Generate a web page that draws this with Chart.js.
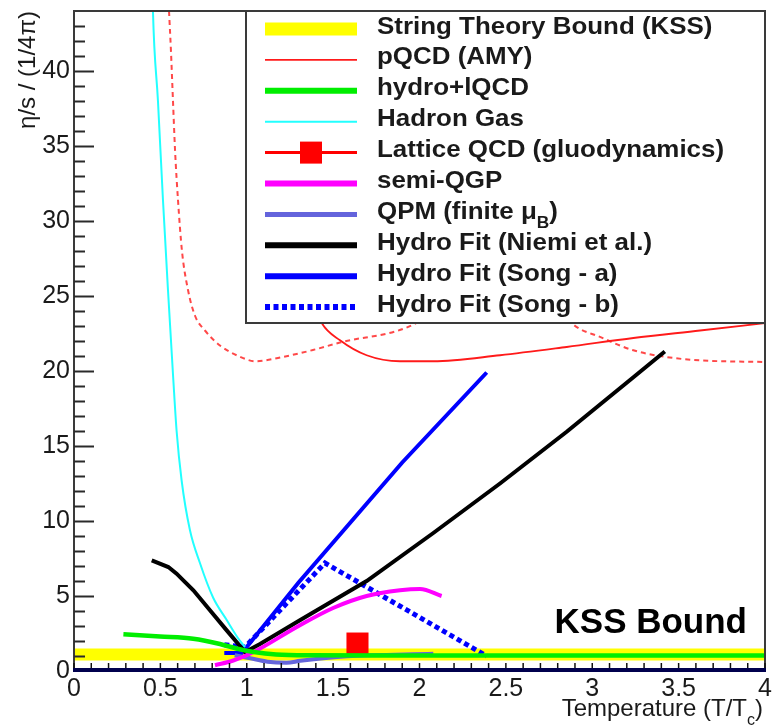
<!DOCTYPE html>
<html>
<head>
<meta charset="utf-8">
<script src="https://cdn.jsdelivr.net/npm/chart.js@4"></script>
<style>
  body { margin: 0; background: #fff; }
  canvas { display: block; }
</style>
</head>
<body>
<canvas id="chart" width="772" height="727"></canvas>
<script>
// values: x = T/Tc, y = eta/s in units of 1/(4 pi)
const xTicks = [0, 0.5, 1, 1.5, 2, 2.5, 3, 3.5, 4];
const yTicks = [0, 5, 10, 15, 20, 25, 30, 35, 40];

const kssX = [0, 4];
const kssY = [1.1, 1.1];

const pqcdX = [1.117, 1.2, 1.3, 1.434, 1.54, 1.694, 1.887, 2.08, 2.466, 2.852, 3.238, 3.624, 4.0];
const pqcdY = [44, 33, 27, 23.2, 22.05, 21.05, 20.65, 20.65, 21.05, 21.6, 22.2, 22.7, 23.2];

const pqcdLowX = [0.55, 0.561, 0.573, 0.585, 0.602, 0.625, 0.66, 0.7, 0.758, 0.845, 0.961, 1.05, 1.193, 1.383, 1.54, 1.964, 2.3];
const pqcdLowY = [44, 41.4, 38.0, 34.7, 31.4, 28.0, 25.4, 23.7, 22.7, 21.7, 20.95, 20.65, 20.9, 21.4, 21.9, 23.1, 26];

const pqcdHighX = [2.263, 2.4, 2.6, 2.89, 3.045, 3.238, 3.43, 3.624, 4.0];
const pqcdHighY = [44, 34, 27, 23.1, 22.27, 21.38, 20.93, 20.71, 20.6];

const hydroLqcdX = [0.286, 0.498, 0.69, 0.845, 0.94, 1.04, 1.17, 1.366, 2.0, 3.0, 4.0];
const hydroLqcdY = [2.45, 2.3, 2.15, 1.8, 1.5, 1.27, 1.1, 1.05, 1.04, 1.04, 1.04];

const hadronX = [0.452, 0.457, 0.486, 0.515, 0.544, 0.575, 0.594, 0.623, 0.671, 0.729, 0.805, 0.884, 0.949, 0.99];
const hadronY = [47, 44, 38, 31.4, 25.4, 19.4, 16.0, 12.7, 9.4, 7.2, 4.9, 3.4, 2.2, 1.6];

const latticeX = [1.641];
const latticeY = [1.83];

const semiQgpX = [0.816, 0.922, 1.04, 1.3, 1.5, 1.694, 1.887, 2.003, 2.128];
const semiQgpY = [0.38, 0.7, 1.27, 3.0, 4.2, 5.0, 5.38, 5.47, 5.0];

const qpmX = [0.93, 1.02, 1.12, 1.23, 1.31, 1.58, 2.08];
const qpmY = [1.05, 0.85, 0.62, 0.55, 0.68, 0.98, 1.15];

const niemiX = [0.45, 0.546, 0.594, 0.643, 0.691, 0.787, 0.884, 0.99, 1.077, 1.31, 1.694, 2.08, 2.466, 2.852, 3.24, 3.42];
const niemiY = [7.38, 6.93, 6.49, 5.93, 5.38, 4.05, 2.71, 1.27, 1.8, 3.4, 6.0, 9.2, 12.5, 15.95, 19.6, 21.3];

const songAX = [0.87, 0.97, 1.0, 1.3, 1.9, 2.389];
const songAY = [1.2, 1.2, 1.6, 5.9, 13.9, 19.9];

const songBX = [0.87, 0.99, 1.453, 2.389];
const songBY = [1.75, 1.6, 7.2, 1.0];

const FONT = "'Liberation Sans', Arial, Helvetica, sans-serif";
const TEXT = '#1a1a1a';

function pts(xs, ys) {
    return xs.map((x, i) => ({ x: x, y: ys[i] }));
}

// draws "abc_Xdef" with X as a subscript, returns the width used
function richText(ctx, text, x, y, size, weight, measureOnly) {
    let parts = text.split('_');
    let cx = x;
    parts.forEach((part, i) => {
        let main = part, sub = '';
        if (i > 0) { sub = part.charAt(0); main = part.substring(1); }
        if (sub) {
            ctx.font = weight + ' ' + Math.round(size * 0.68) + 'px ' + FONT;
            if (!measureOnly) ctx.fillText(sub, cx, y + size * 0.36);
            cx += ctx.measureText(sub).width;
        }
        ctx.font = weight + ' ' + size + 'px ' + FONT;
        if (!measureOnly) ctx.fillText(main, cx, y);
        cx += ctx.measureText(main).width;
    });
    return cx - x;
}

const overlay = {
    id: 'overlay',
    afterDatasetsDraw(chart) {
        const ctx = chart.ctx;
        const a = chart.chartArea;
        const xs = chart.scales.x, ys = chart.scales.y;
        ctx.save();

        // frame
        ctx.strokeStyle = '#3a3a3a';
        ctx.lineWidth = 2;
        ctx.beginPath();
        ctx.moveTo(a.left, a.bottom);
        ctx.lineTo(a.left, a.top);
        ctx.lineTo(a.right, a.top);
        ctx.lineTo(a.right, a.bottom);
        ctx.stroke();

        // y ticks pointing inwards
        ctx.strokeStyle = '#2a2a2a';
        ctx.lineWidth = 2;
        for (let v = 1; v <= 43; v++) {
            let py = Math.round(ys.getPixelForValue(v)) + 0.5;
            let len = v % 5 === 0 ? 20 : 11;
            ctx.beginPath();
            ctx.moveTo(a.left, py);
            ctx.lineTo(a.left + len, py);
            ctx.stroke();
        }

        // x ticks pointing inwards
        ctx.lineWidth = 1.5;
        ctx.strokeStyle = '#111';
        for (let i = 0; i <= 40; i++) {
            let px = xs.getPixelForValue(i / 10);
            ctx.beginPath();
            ctx.moveTo(px, a.bottom);
            ctx.lineTo(px, a.bottom - 8);
            ctx.stroke();
        }

        // thick bottom axis
        ctx.strokeStyle = '#00004e';
        ctx.lineWidth = 4;
        ctx.beginPath();
        ctx.moveTo(a.left - 1, a.bottom - 1);
        ctx.lineTo(a.right + 1, a.bottom - 1);
        ctx.stroke();

        // KSS Bound label
        ctx.fillStyle = '#000';
        ctx.font = 'bold 35px ' + FONT;
        ctx.textAlign = 'right';
        ctx.textBaseline = 'alphabetic';
        ctx.fillText('KSS Bound', a.right - 18, a.bottom - 38);

        // x axis title with subscript
        ctx.textAlign = 'left';
        ctx.fillStyle = TEXT;
        let title = 'Temperature (T/T_c)';
        let w = richText(ctx, title, 0, 0, 24, 'normal', true);
        richText(ctx, title, a.right - 2 - w, 716, 24, 'normal', false);

        // legend box
        const bx = a.left + 172, by = a.top, bw = a.right - bx, bh = 312;
        ctx.fillStyle = '#fff';
        ctx.fillRect(bx, by, bw, bh);
        ctx.strokeStyle = '#3a3a3a';
        ctx.lineWidth = 2;
        ctx.strokeRect(bx, by, bw, bh);

        let row = 0;
        chart.data.datasets.forEach(ds => {
            if (ds.hideInLegend) return;
            const cy = by + 18 + row * 30.9;
            const x0 = bx + 19, x1 = bx + 111;
            ctx.save();
            ctx.strokeStyle = ds.borderColor;
            ctx.lineWidth = ds.legendWidth || ds.borderWidth;
            ctx.setLineDash(ds.borderDash || []);
            ctx.beginPath();
            ctx.moveTo(x0, cy);
            ctx.lineTo(x1, cy);
            ctx.stroke();
            if (ds.pointStyle === 'rect') {
                ctx.fillStyle = ds.backgroundColor;
                ctx.fillRect((x0 + x1) / 2 - 11, cy - 11, 22, 22);
            }
            ctx.restore();

            ctx.save();
            ctx.fillStyle = TEXT;
            ctx.textAlign = 'left';
            ctx.textBaseline = 'alphabetic';
            ctx.translate(bx + 131, cy + 4.5);
            ctx.scale(1.08, 1);
            richText(ctx, ds.label, 0, 0, 24, 'bold', false);
            ctx.restore();
            row++;
        });

        ctx.restore();
    }
};

const ctx = document.getElementById('chart').getContext('2d');
new Chart(ctx, {
    type: 'line',
    data: {
        datasets: [
            {
                label: 'String Theory Bound (KSS)',
                data: pts(kssX, kssY),
                borderColor: '#ffff00',
                borderWidth: 12,
                legendWidth: 13,
                order: 20
            },
            {
                label: 'pQCD (AMY)',
                data: pts(pqcdX, pqcdY),
                borderColor: '#ff1a1a',
                borderWidth: 1.8,
                cubicInterpolationMode: 'monotone'
            },
            {
                label: 'hydro+lQCD',
                data: pts(hydroLqcdX, hydroLqcdY),
                borderColor: '#00ee00',
                borderWidth: 4.5,
                legendWidth: 6,
                cubicInterpolationMode: 'monotone'
            },
            {
                label: 'Hadron Gas',
                data: pts(hadronX, hadronY),
                borderColor: '#22ffff',
                borderWidth: 2,
                cubicInterpolationMode: 'monotone'
            },
            {
                label: 'Lattice QCD (gluodynamics)',
                data: pts(latticeX, latticeY),
                borderColor: '#ff0000',
                backgroundColor: '#ff0000',
                borderWidth: 3,
                showLine: false,
                pointStyle: 'rect',
                pointRadius: 15.6,
                pointBorderWidth: 0
            },
            {
                label: 'semi-QGP',
                data: pts(semiQgpX, semiQgpY),
                borderColor: '#ff00ff',
                borderWidth: 4,
                legendWidth: 6,
                cubicInterpolationMode: 'monotone'
            },
            {
                label: 'QPM (finite μ_B)',
                data: pts(qpmX, qpmY),
                borderColor: '#6464dc',
                borderWidth: 4,
                legendWidth: 5,
                cubicInterpolationMode: 'monotone'
            },
            {
                label: 'Hydro Fit (Niemi et al.)',
                data: pts(niemiX, niemiY),
                borderColor: '#000000',
                borderWidth: 4,
                legendWidth: 6
            },
            {
                label: 'Hydro Fit (Song - a)',
                data: pts(songAX, songAY),
                borderColor: '#0000ff',
                borderWidth: 4,
                legendWidth: 6
            },
            {
                label: 'Hydro Fit (Song - b)',
                data: pts(songBX, songBY),
                borderColor: '#0000ff',
                borderWidth: 5,
                legendWidth: 6,
                borderDash: [5, 3.5]
            },
            {
                label: 'pQCD band low',
                hideInLegend: true,
                data: pts(pqcdLowX, pqcdLowY),
                borderColor: 'rgba(255, 40, 40, 0.85)',
                borderWidth: 2,
                borderDash: [5, 4],
                cubicInterpolationMode: 'monotone'
            },
            {
                label: 'pQCD band high',
                hideInLegend: true,
                data: pts(pqcdHighX, pqcdHighY),
                borderColor: 'rgba(255, 40, 40, 0.85)',
                borderWidth: 2,
                borderDash: [5, 4],
                cubicInterpolationMode: 'monotone'
            }
        ].map(ds => Object.assign({ pointRadius: 0, fill: false, clip: 0, tension: 0 }, ds))
    },
    options: {
        responsive: false,
        animation: false,
        devicePixelRatio: 1,
        layout: { autoPadding: false, padding: { top: 11, right: 7, left: 0, bottom: 0 } },
        plugins: {
            legend: { display: false },
            tooltip: { enabled: false }
        },
        scales: {
            x: {
                type: 'linear',
                min: 0,
                max: 4,
                grid: { display: false, drawTicks: false },
                border: { display: false },
                afterBuildTicks: s => { s.ticks = xTicks.map(v => ({ value: v })); },
                afterFit: s => { s.height = 56; s.paddingLeft = 0; s.paddingRight = 0; },
                ticks: {
                    padding: 3,
                    maxRotation: 0,
                    autoSkip: false,
                    color: TEXT,
                    font: { family: FONT, size: 25 },
                    callback: v => String(v)
                }
            },
            y: {
                type: 'linear',
                min: 0,
                max: 44,
                grid: { display: false, drawTicks: false },
                border: { display: false },
                afterBuildTicks: s => { s.ticks = yTicks.map(v => ({ value: v })); },
                afterFit: s => { s.width = 74; s.paddingTop = 0; s.paddingBottom = 0; },
                ticks: {
                    padding: 4,
                    autoSkip: false,
                    color: TEXT,
                    font: { family: FONT, size: 25 },
                    callback: v => String(v)
                },
                title: {
                    display: true,
                    text: 'η/s / (1/4π)',
                    align: 'end',
                    color: TEXT,
                    padding: { top: 14, bottom: 0 },
                    font: { family: FONT, size: 24 }
                }
            }
        }
    },
    plugins: [overlay]
});
</script>
</body>
</html>
